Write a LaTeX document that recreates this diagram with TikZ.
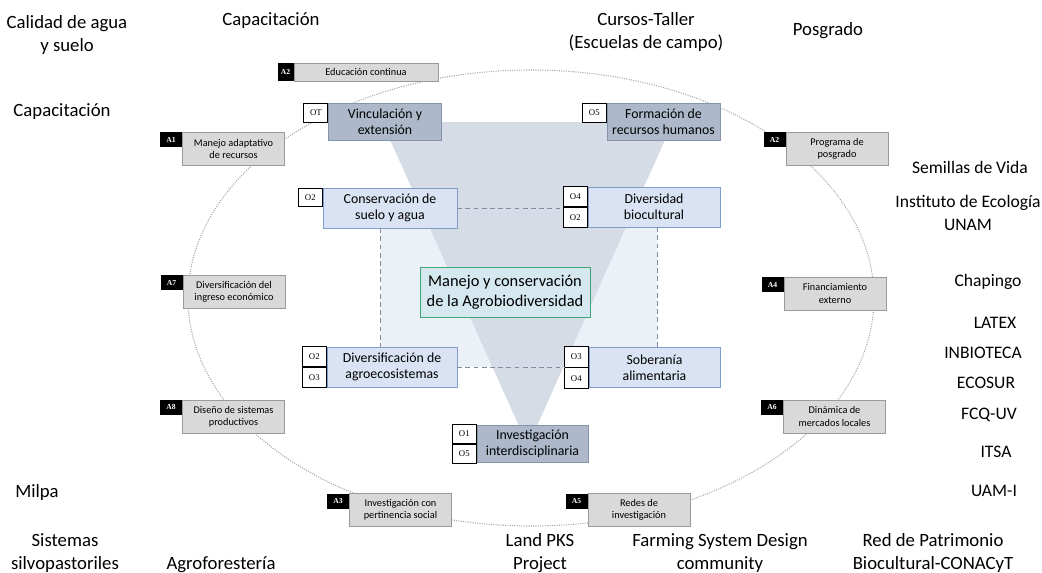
\documentclass[tikz,border=0pt]{standalone}
\usepackage{fontspec}
\setmainfont{Carlito}
\newfontfamily\tagfont{Liberation Serif}
\usetikzlibrary{positioning}
\usepackage{xcolor}
\definecolor{ActFill}{HTML}{D9D9D9}
\definecolor{ActLine}{HTML}{9A9A9A}
\definecolor{ObjFill}{HTML}{DAE3F3}
\definecolor{ObjLine}{HTML}{7F9CCB}
\definecolor{DarkFill}{HTML}{ADB9CA}
\definecolor{DarkLine}{HTML}{8594AA}
\definecolor{HubFill}{HTML}{D5E8EF}
\definecolor{HubLine}{HTML}{3FA776}
\definecolor{FrameFill}{HTML}{ECF1F8}
\definecolor{FunnelFill}{HTML}{D6DCE6}
\definecolor{DashLine}{HTML}{7D8DA5}
\newlength\px
\setlength\px{0.03cm}
\newcommand\extfont{\fontsize{16}{19.6}\selectfont}
\newcommand\partfont{\fontsize{15}{19}\selectfont}
\newcommand\objfont{\fontsize{11.8}{13.8}\selectfont}
\newcommand\hubfont{\fontsize{14}{17}\selectfont}
\newcommand\actfont{\fontsize{8.8}{10.4}\selectfont}
\tikzset{
  abox/.style={draw=ActLine, fill=ActFill, align=center, inner sep=1pt,
    minimum width=102\px, minimum height=33\px, font=\actfont},
  atag/.style={fill=black, text=white, inner sep=0pt, anchor=north east,
    minimum width=22\px, minimum height=15\px, font=\tagfont\fontsize{6.5}{7}\selectfont\bfseries},
  obox/.style={draw=ObjLine, fill=ObjFill, align=center, inner sep=1pt,
    minimum width=132\px, minimum height=40\px, font=\objfont},
  dbox/.style={draw=DarkLine, fill=DarkFill, align=center, inner sep=1pt,
    minimum width=113\px, minimum height=37\px, font=\objfont},
  otag/.style={draw=black, fill=white, inner sep=0pt, line width=0.7pt,
    minimum width=24\px, minimum height=19\px, font=\tagfont\fontsize{7.5}{8}\selectfont},
  hub/.style={draw=HubLine, fill=HubFill, align=center, inner sep=1pt, line width=0.7pt,
    minimum width=170\px, minimum height=50\px, font=\hubfont},
  ext/.style={align=center, inner sep=0pt, font=\extfont},
  part/.style={align=center, inner sep=0pt, font=\partfont},
  ring/.style={draw=gray!70, line width=0.9pt, dash pattern=on 0.9pt off 1.1pt},
  link/.style={draw=DashLine, line width=0.6pt, dash pattern=on 4pt off 3pt},
}

\begin{document}
\begin{tikzpicture}[x=0.03cm, y=-0.03cm]
    \useasboundingbox (0,0) rectangle (1042,573);
    \draw[ring] (531,298) ellipse [x radius=343, y radius=228];
    \node[fill=FrameFill, minimum width=276\px, minimum height=159\px] (frame) at (519,287.5) {};
    \fill[FunnelFill] (382,122) -- (673,122) -- (528,446) -- cycle;

    % actions on the ring
    \node[abox, minimum width=144\px, minimum height=18\px] (a2t) at (366,72) {Educación continua};
    \node[atag, minimum width=16\px, minimum height=18\px] at (a2t.north west) {A2};
    \node[abox] (a1) at (233.5,149) {Manejo adaptativo\\de recursos};
    \node[atag] at (a1.north west) {A1};
    \node[abox] (a2r) at (837,149) {Programa de\\posgrado};
    \node[atag] at (a2r.north west) {A2};
    \node[abox] (a7) at (234,292) {Diversificación del\\ingreso económico};
    \node[atag] at (a7.north west) {A7};
    \node[abox] (a4) at (835,293.5) {Financiamiento\\externo};
    \node[atag] at (a4.north west) {A4};
    \node[abox] (a8) at (233.5,416.5) {Diseño de sistemas\\productivos};
    \node[atag] at (a8.north west) {A8};
    \node[abox] (a6) at (834.5,416.5) {Dinámica de\\mercados locales};
    \node[atag] at (a6.north west) {A6};
    \node[abox] (a3) at (400.5,510) {Investigación con\\pertinencia social};
    \node[atag] at (a3.north west) {A3};
    \node[abox] (a5) at (639,510) {Redes de\\investigación};
    \node[atag] at (a5.north west) {A5};

    % objectives
    \node[dbox] (vinc) at (385,121.5) {Vinculación y\\extensión};
    \node[otag, anchor=north east] at (vinc.north west) {OT};
    \node[dbox] (form) at (663.5,121.5) {Formación de\\recursos humanos};
    \node[otag, anchor=north east] at (form.north west) {O5};
    \node[obox, minimum width=134\px] (cons) at (390,208) {Conservación de\\suelo y agua};
    \node[otag, anchor=north east, minimum height=18\px] at (cons.north west) {O2};
    \node[obox] (dive) at (654,207) {Diversidad\\biocultural};
    \node[otag, anchor=south east, minimum height=20\px] (divt) at (dive.west) {O4};
    \node[otag, anchor=north east, minimum height=20\px] at (dive.west) {O2};
    \node[obox, minimum width=130\px] (dagr) at (392,367) {Diversificación de\\agroecosistemas};
    \node[otag, anchor=south east, minimum height=20\px] at (dagr.west) {O2};
    \node[otag, anchor=north east, minimum height=20\px] at (dagr.west) {O3};
    \node[obox, minimum width=131\px] (sobe) at (654.5,367.5) {Soberanía\\alimentaria};
    \node[otag, anchor=south east, minimum height=20.5\px] (sobt) at (sobe.west) {O3};
    \node[otag, anchor=north east, minimum height=20.5\px] at (sobe.west) {O4};
    \node[dbox, minimum width=111\px] (inve) at (532.5,443.5) {Investigación\\interdisciplinaria};
    \node[otag, anchor=south east] at (inve.west) {O1};
    \node[otag, anchor=north east] at (inve.west) {O5};

    \node[hub] (hub) at (505,292) {Manejo y conservación\\de la Agrobiodiversidad};

    \draw[link] (cons.east) -- (cons.east -| divt.west);
    \draw[link] (dagr.east) -- (dagr.east -| sobt.west);
    \draw[link] (cons.south -| frame.west) -- (dagr.north -| frame.west);
    \draw[link] (dive.south -| frame.east) -- (sobe.north -| frame.east);

    % topics and partners around
    \node[ext] (calidad) at (67,35) {Calidad de agua\\y suelo};
    \node[ext] (capa) at (271,21) {Capacitación};
    \node[ext] (cursos) at (646,32) {Cursos-Taller\\(Escuelas de campo)};
    \node[ext] (posg) at (828,31) {Posgrado};
    \node[ext] (capb) at (62,112) {Capacitación};
    \node[part] (semillas) at (970,167) {Semillas de Vida};
    \node[part] (inecol) at (968,213) {Instituto de Ecología\\UNAM};
    \node[part] (chapingo) at (988,282) {Chapingo};
    \node[part] (latex) at (995,323) {LATEX};
    \node[part] (inbioteca) at (983,353) {INBIOTECA};
    \node[part] (ecosur) at (986,383) {ECOSUR};
    \node[part] (fcquv) at (989,415) {FCQ-UV};
    \node[part] (itsa) at (996,452) {ITSA};
    \node[part] (uami) at (994,491) {UAM-I};
    \node[ext] (milpa) at (37,493) {Milpa};
    \node[ext] (silvo) at (65,553) {Sistemas\\silvopastoriles};
    \node[ext] (agrof) at (221,565) {Agroforestería};
    \node[ext] (landpks) at (540,553) {Land PKS\\Project};
    \node[ext] (farming) at (720,553) {Farming System Design\\community};
    \node[ext] (patrim) at (933,553) {Red de Patrimonio\\Biocultural-CONACyT};
  \end{tikzpicture}
\end{document}
